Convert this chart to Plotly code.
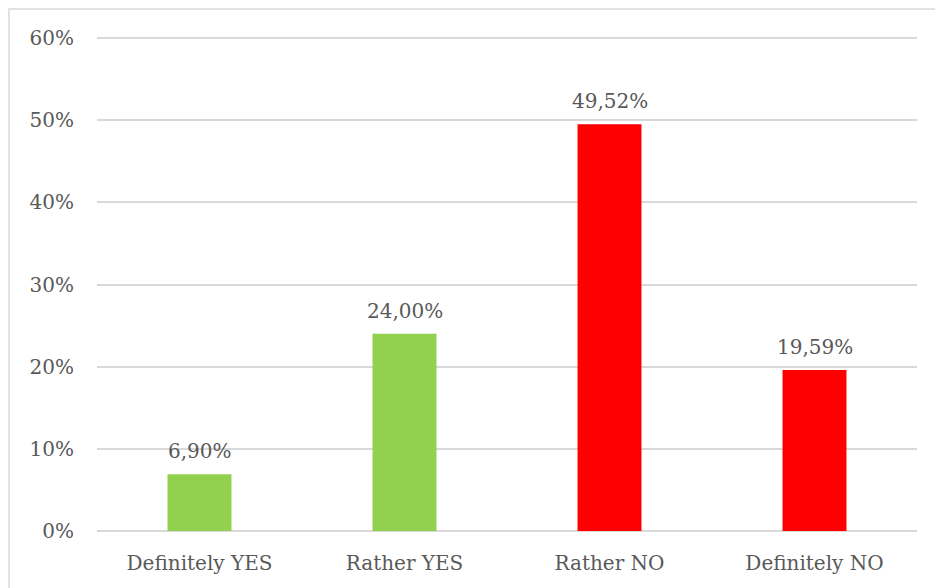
import plotly.graph_objects as go

categories = ["Definitely YES", "Rather YES", "Rather NO", "Definitely NO"]
values = [6.90, 24.00, 49.52, 19.59]
labels = ["6,90%", "24,00%", "49,52%", "19,59%"]
colors = ["#92D050", "#92D050", "#FF0000", "#FF0000"]
yticks = [0, 10, 20, 30, 40, 50, 60]
yticklabels = ["0%", "10%", "20%", "30%", "40%", "50%", "60%"]

FONT = "DejaVu Serif"
TXT = "#595959"
FS = 20

fig = go.Figure(go.Bar(
    x=categories, y=values, marker=dict(color=colors, line=dict(width=0)),
    width=0.312, hoverinfo="x+y",
))

for c, v, t in zip(categories, values, labels):
    fig.add_annotation(x=c, y=v, text=t, showarrow=False, yanchor="middle",
                       yshift=23, font=dict(family=FONT, size=FS, color=TXT))

L, R, T, B = 97, 18, 36, 57
W, H = 935, 588
pw, ph = W - L - R, H - T - B

fig.update_layout(
    width=W, height=H,
    margin=dict(l=L, r=R, t=T, b=B),
    paper_bgcolor="white", plot_bgcolor="white",
    showlegend=False,
    font=dict(family=FONT, size=FS, color=TXT),
    xaxis=dict(showgrid=False, showline=False, ticks="", ticklabelstandoff=18,
               tickfont=dict(family=FONT, size=FS, color=TXT)),
    yaxis=dict(range=[0, 60.25], tickvals=yticks, ticktext=yticklabels,
               showgrid=True, gridcolor="#D9D9D9", gridwidth=1.5,
               zeroline=True, zerolinecolor="#D9D9D9", zerolinewidth=1.5,
               showline=False, ticks="", ticklabelstandoff=22,
               tickfont=dict(family=FONT, size=FS, color=TXT)),
    shapes=[dict(type="rect", xref="paper", yref="paper",
                 x0=(9 - L) / pw, x1=1.2, y0=-0.3, y1=1 + (T - 9) / ph,
                 line=dict(color="#D9D9D9", width=1.5), fillcolor="rgba(0,0,0,0)", layer="below")],
    bargap=0.688,
)

fig.write_html("out.html")
